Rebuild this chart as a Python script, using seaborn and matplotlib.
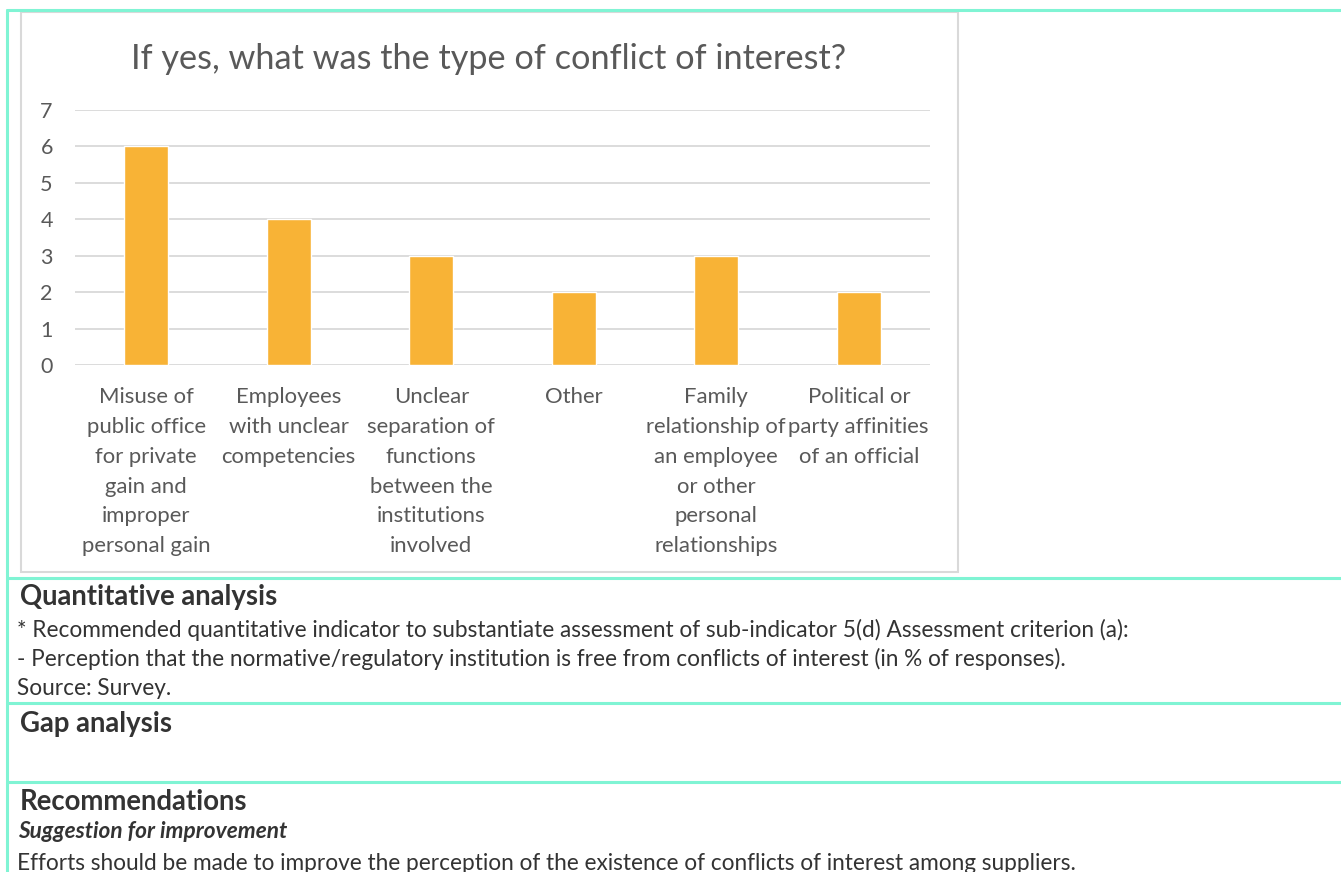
import matplotlib
matplotlib.use("Agg")
import matplotlib.pyplot as plt
from matplotlib.patches import Rectangle
from matplotlib.lines import Line2D
import seaborn as sns
import pandas as pd

# ---------------------------------------------------------------
# Data
# ---------------------------------------------------------------
title = "If yes, what was the type of conflict of interest?"
categories = [
    "Misuse of\npublic office\nfor private\ngain and\nimproper\npersonal gain",
    "Employees\nwith unclear\ncompetencies",
    "Unclear\nseparation of\nfunctions\nbetween the\ninstitutions\ninvolved",
    "Other",
    "Family\nrelationship of\nan employee\nor other\npersonal\nrelationships",
    "Political or\nparty affinities\nof an official",
]
counts = [6, 4, 3, 2, 3, 2]
y_ticks = [0, 1, 2, 3, 4, 5, 6, 7]

heading_quant = "Quantitative analysis"
quant_lines = [
    "* Recommended quantitative indicator to substantiate assessment of sub-indicator 5(d) Assessment criterion (a):",
    "- Perception that the normative/regulatory institution is free from conflicts of interest (in % of responses).",
    "Source: Survey.",
]
heading_gap = "Gap analysis"
heading_rec = "Recommendations"
sub_rec = "Suggestion for improvement"
rec_text = "Efforts should be made to improve the perception of the existence of conflicts of interest among suppliers."

# ---------------------------------------------------------------
# Style
# ---------------------------------------------------------------
sns.set_theme(style="white")
plt.rcParams['font.family'] = ['Lato', 'DejaVu Sans']

W, H = 1341, 872
BAR = "#F8B336"
GRID = "#D9D9D9"
AXTXT = "#595959"
TEAL = "#80F4D4"
BODY = "#333333"

fig = plt.figure(figsize=(W / 100, H / 100), dpi=100)
fig.patch.set_facecolor("white")
renderer = fig.canvas.get_renderer()


def fx(x):
    return x / W


def fy(y):
    return 1 - y / H


def fit_size(text, target_px, base=12, **kw):
    # font size that makes `text` about target_px wide
    t = fig.text(0, 0, text, fontsize=base, **kw)
    w = t.get_window_extent(renderer).width
    t.remove()
    return base * target_px / w


# chart axes (pixel box 75..930 x 110..365)
ax = fig.add_axes([fx(75), fy(365), fx(930) - fx(75), fy(110) - fy(365)])
df = pd.DataFrame({"type": categories, "count": counts})
sns.barplot(data=df, x="type", y="count", color=BAR, saturation=1,
            width=0.31, ax=ax)

lab_size = fit_size("personal gain", 128)
ax.set_ylim(0, 7)
ax.set_yticks(y_ticks)
ax.set_xlim(-0.5, len(categories) - 0.5)
ax.yaxis.grid(True, color=GRID, linewidth=1.3)
ax.set_axisbelow(True)
for s in ax.spines.values():
    s.set_visible(False)
ax.tick_params(axis="both", length=0, colors=AXTXT)
ax.tick_params(axis="y", labelsize=15.5, pad=16)
ax.tick_params(axis="x", labelsize=lab_size, pad=16)
for lab in ax.get_xticklabels():
    lab.set_linespacing(1.62 * 13 / lab_size * 29.2 / 24)
    lab.set_verticalalignment("top")
ax.set_xlabel("")
ax.set_ylabel("")

title_size = fit_size(title, 714)
fig.text(fx(489), fy(59), title, ha="center", va="center",
         fontsize=title_size, color=AXTXT)

# chart border
fig.patches.append(Rectangle((fx(21), fy(572)), fx(958) - fx(21), fy(12) - fy(572),
                             transform=fig.transFigure, fill=False,
                             edgecolor=GRID, linewidth=1.5))

# teal table lines
for yy in [10, 578, 703, 782]:
    fig.add_artist(Line2D([fx(7), 1], [fy(yy), fy(yy)], color=TEAL, linewidth=2.2,
                          transform=fig.transFigure))
fig.add_artist(Line2D([fx(7), fx(7)], [fy(10), 0], color=TEAL, linewidth=2.2,
                      transform=fig.transFigure))

# body text
body_size = fit_size(quant_lines[0], 1106)
head_size = fit_size(heading_quant, 256, fontweight="bold")

fig.text(fx(20), fy(597), heading_quant, ha="left", va="center",
         fontsize=head_size, fontweight="bold", color=BODY)
for i, line in enumerate(quant_lines):
    fig.text(fx(17), fy(630 + 29 * i), line, ha="left", va="center",
             fontsize=body_size, color=BODY)
fig.text(fx(20), fy(724), heading_gap, ha="left", va="center",
         fontsize=head_size, fontweight="bold", color=BODY)
fig.text(fx(20), fy(802), heading_rec, ha="left", va="center",
         fontsize=head_size, fontweight="bold", color=BODY)
fig.text(fx(18), fy(831), sub_rec, ha="left", va="center",
         fontsize=body_size, fontweight="bold", fontstyle="italic", color=BODY)
fig.text(fx(17), fy(863), rec_text, ha="left", va="center",
         fontsize=body_size, color=BODY)

fig.savefig("out.png", dpi=100)
